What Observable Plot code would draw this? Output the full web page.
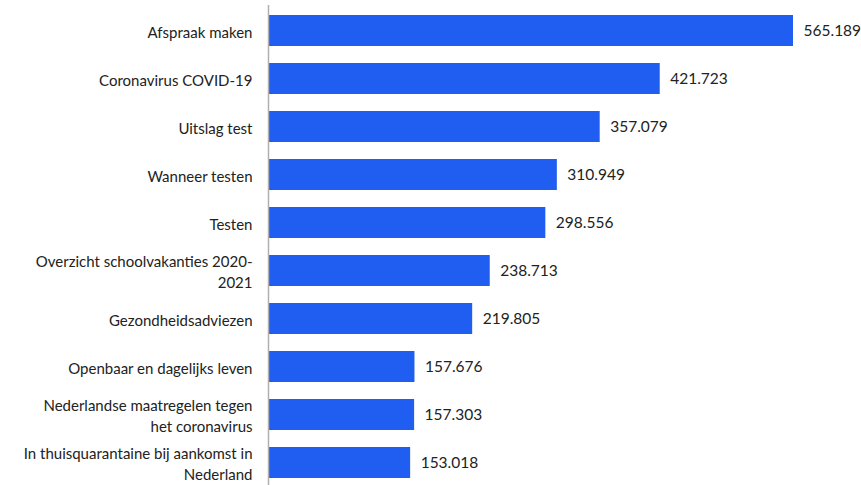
<!DOCTYPE html>
<html>
<head>
<meta charset="utf-8">
<script src="https://cdn.jsdelivr.net/npm/d3@7"></script>
<script src="https://cdn.jsdelivr.net/npm/@observablehq/plot@0.6"></script>
<style>
  html, body { margin: 0; padding: 0; background: #fff; }
  #chart svg { display: block; }
</style>
</head>
<body>
<div id="chart"></div>
<script>
const categories = [
  "Afspraak maken",
  "Coronavirus COVID-19",
  "Uitslag test",
  "Wanneer testen",
  "Testen",
  "Overzicht schoolvakanties 2020-\n2021",
  "Gezondheidsadviezen",
  "Openbaar en dagelijks leven",
  "Nederlandse maatregelen tegen\nhet coronavirus",
  "In thuisquarantaine bij aankomst in\nNederland"
];
const values = [565189, 421723, 357079, 310949, 298556, 238713, 219805, 157676, 157303, 153018];

const data = categories.map((c, i) => ({category: c, value: values[i]}));
const nl = d3.formatLocale({decimal: ",", thousands: ".", grouping: [3], currency: ["€", ""]});
const fmt = nl.format(",d");

const chart = Plot.plot({
  width: 861,
  height: 485,
  marginLeft: 268,
  marginRight: 68,
  marginTop: 5,
  marginBottom: -4,
  style: {fontFamily: "Lato, 'Open Sans', sans-serif", fontSize: "15px", color: "#222", overflow: "hidden"},
  x: {domain: [0, 565189], axis: null},
  y: {domain: categories, paddingInner: 0.35, paddingOuter: 0.208, axis: null},
  marks: [
    Plot.barX(data, {x: "value", y: "category", fill: "#1f5ef0"}),
    Plot.ruleX([0], {stroke: "#b0b0b0", strokeWidth: 1.5}),
    Plot.text(data, {x: 0, y: "category", text: "category", textAnchor: "end", dx: -16, lineHeight: 1.42, fill: "#222", fontSize: 15}),
    Plot.text(data, {x: "value", y: "category", text: d => fmt(d.value), textAnchor: "start", dx: 10, fill: "#222", fontSize: 15.5})
  ]
});
document.getElementById("chart").appendChild(chart);
</script>
</body>
</html>
